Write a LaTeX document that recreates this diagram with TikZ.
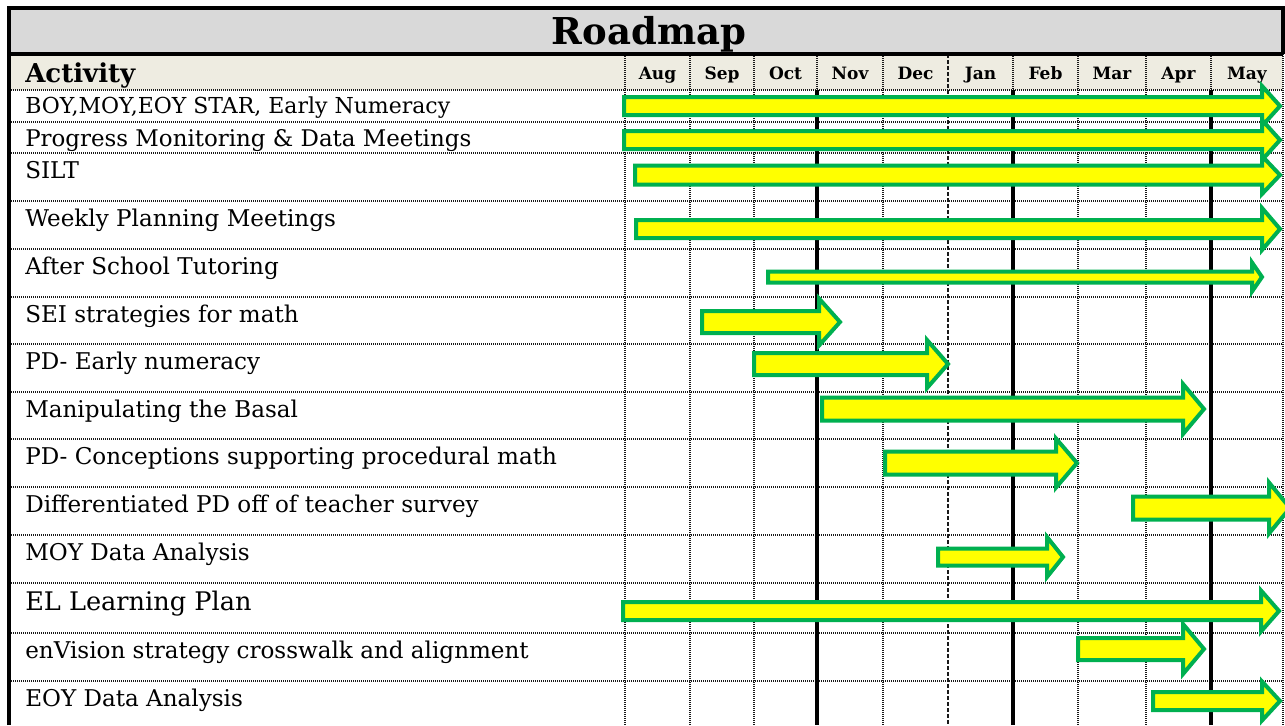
\documentclass[tikz,border=0pt]{standalone}
\usepackage{fontspec}
\setmainfont{DejaVu Serif}
\definecolor{rmgreen}{HTML}{00B050}
\definecolor{rmyellow}{HTML}{FFFF00}
\definecolor{rmgray}{HTML}{D9D9D9}
\definecolor{rmbeige}{HTML}{EEECE1}
\newcommand{\rmarrow}[6]{\draw[barrow] (#1,#4-#5) -- (#2,#4-#5) -- (#2,#4-#6) -- (#3,#4) -- (#2,#4+#6) -- (#2,#4+#5) -- (#1,#4+#5) -- cycle;}
\begin{document}
\begin{tikzpicture}[x=0.75pt,y=-0.75pt,
  barrow/.style={draw=rmgreen,fill=rmyellow,line width=3pt,line join=miter},
  gridline/.style={black!90,line width=0.9pt,dash pattern=on 0.75pt off 0.75pt},
  thickline/.style={black,line width=2.4pt},
  border/.style={black,line width=2.4pt},
  rowlabel/.style={anchor=base west,inner sep=0pt,font=\fontsize{17.3}{19}\selectfont},
  monthlabel/.style={anchor=base,inner sep=0pt,font=\bfseries\fontsize{12.75}{14}\selectfont}]
\useasboundingbox (0,0) rectangle (1285,725);
% bands
\fill[rmgray] (9,8) rectangle (1283,54);
\fill[rmbeige] (9,54) rectangle (1283,90);
% horizontal grid
\foreach \y in {90,122,153,201,249,297,344,392,439,487,535,583,633,681}
  \draw[gridline] (9,\y) -- (1283,\y);
% vertical grid
\foreach \x in {625,690,754,883,1078,1146,1283}
  \draw[gridline] (\x,54) -- (\x,725);
\draw[black!90,line width=0.9pt,dash pattern=on 3pt off 1.5pt] (948,54) -- (948,725);
\foreach \x in {817,1013,1211}{
  \draw[gridline] (\x,54) -- (\x,90);
  \draw[thickline] (\x,90) -- (\x,725);
}
% borders
\draw[border] (9,725) -- (9,8) -- (1283,8) -- (1283,54);
\draw[border] (9,54) -- (1283,54);
% title and header
\node[anchor=base,inner sep=0pt,font=\bfseries\fontsize{27.75}{30}\selectfont] (title) at (649,44) {Roadmap};
\node[anchor=base west,inner sep=0pt,font=\bfseries\fontsize{19.5}{21}\selectfont] (activity) at (25,82) {Activity};
\node[monthlabel] (aug) at (657.5,79) {Aug};
\node[monthlabel] (sep) at (722,79) {Sep};
\node[monthlabel] (oct) at (785.5,79) {Oct};
\node[monthlabel] (nov) at (850,79) {Nov};
\node[monthlabel] (dec) at (915.5,79) {Dec};
\node[monthlabel] (jan) at (980.5,79) {Jan};
\node[monthlabel] (feb) at (1045.5,79) {Feb};
\node[monthlabel] (mar) at (1112,79) {Mar};
\node[monthlabel] (apr) at (1178.5,79) {Apr};
\node[monthlabel] (may) at (1247,79) {May};
% row labels
\node[rowlabel,font=\fontsize{16.5}{18}\selectfont] (r1) at (25,113) {BOY,MOY,EOY STAR, Early Numeracy};
\node[rowlabel,font=\fontsize{17.2}{19}\selectfont] (r2) at (25,146) {Progress Monitoring \& Data Meetings};
\node[rowlabel] (r3) at (25,178) {SILT};
\node[rowlabel] (r4) at (25,226) {Weekly Planning Meetings};
\node[rowlabel] (r5) at (25,274) {After School Tutoring};
\node[rowlabel] (r6) at (25,322) {SEI strategies for math};
\node[rowlabel] (r7) at (25,369) {PD- Early numeracy};
\node[rowlabel] (r8) at (25,417) {Manipulating the Basal};
\node[rowlabel] (r9) at (25,464) {PD- Conceptions supporting procedural math};
\node[rowlabel] (r10) at (25,512) {Differentiated PD off of teacher survey};
\node[rowlabel] (r11) at (25,560) {MOY Data Analysis};
\node[rowlabel,font=\fontsize{19.2}{21}\selectfont] (r12) at (25,610) {EL Learning Plan};
\node[rowlabel] (r13) at (25,658) {enVision strategy crosswalk and alignment};
\node[rowlabel] (r14) at (25,706) {EOY Data Analysis};
% arrows
\rmarrow{624}{1262}{1280}{106}{9}{20}
\rmarrow{624}{1262}{1280}{140}{9}{20}
\rmarrow{635}{1262}{1280}{175}{9.5}{19}
\rmarrow{636}{1262}{1280}{229}{9}{21}
\rmarrow{768}{1252}{1262}{277}{5.5}{14.5}
\rmarrow{702}{819}{840}{322}{11}{23.5}
\rmarrow{754}{927}{948}{364}{11}{24}
\rmarrow{822}{1183}{1204}{409}{11.5}{25}
\rmarrow{885}{1056}{1077}{463}{11.5}{24.5}
\rmarrow{1133}{1269}{1290}{508}{11.5}{25.5}
\rmarrow{938}{1047}{1063}{557}{8.5}{20}
\rmarrow{623}{1261}{1279}{611}{9}{20.5}
\rmarrow{1078}{1183}{1204}{649}{11}{25}
\rmarrow{1153}{1262}{1280}{701}{9}{19.5}
\end{tikzpicture}
\end{document}
